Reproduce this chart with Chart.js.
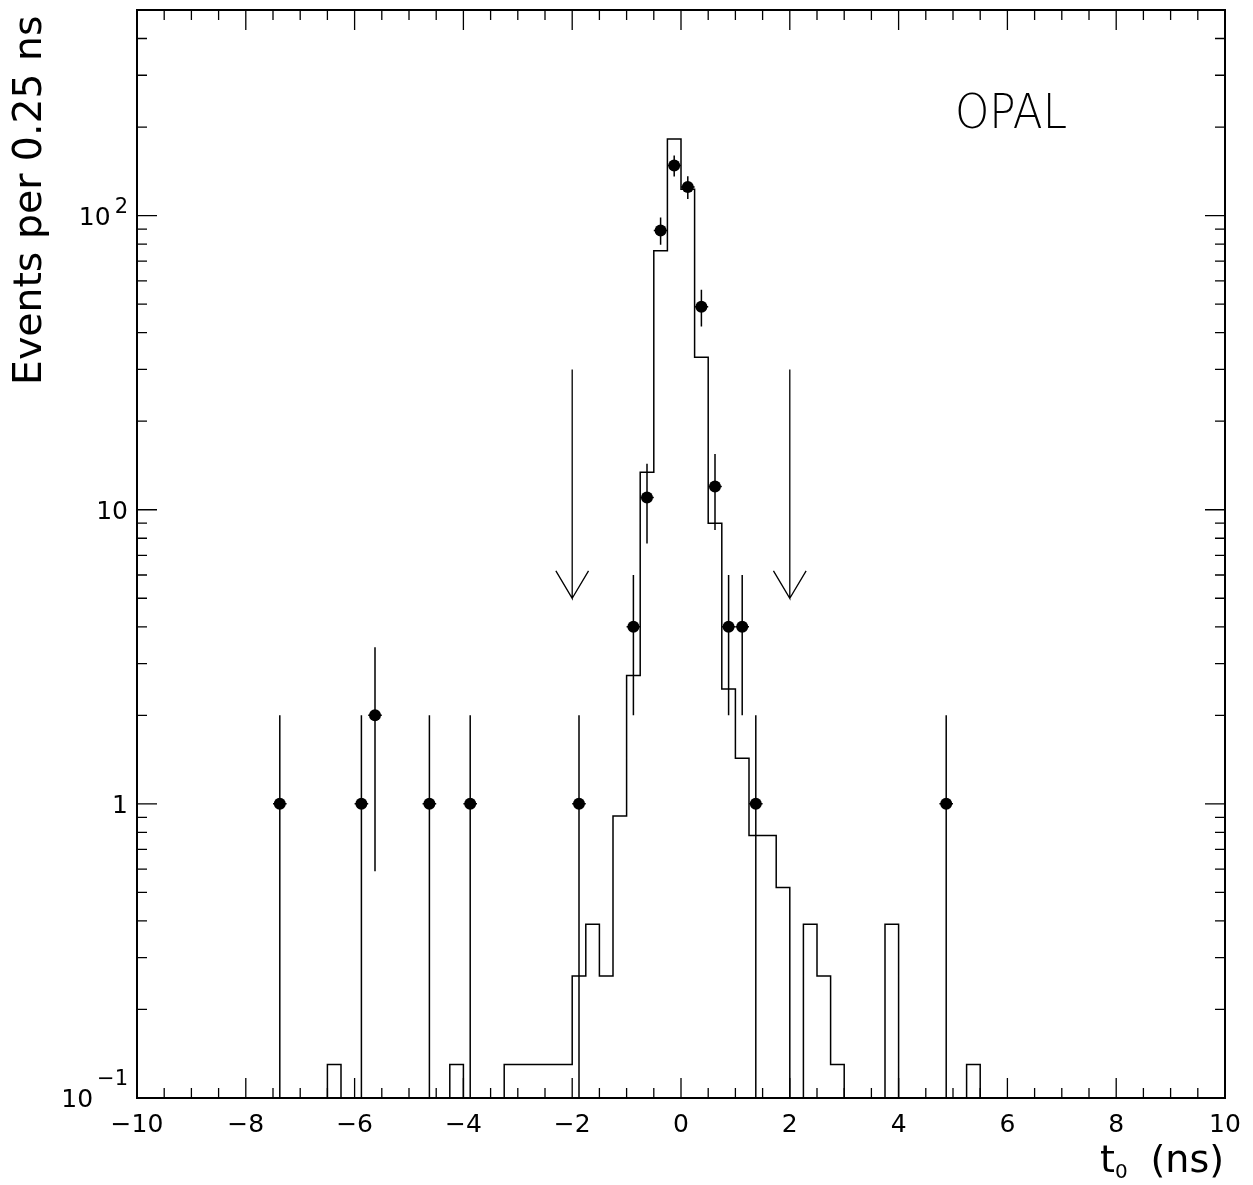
<!DOCTYPE html>
<html lang="en">
<head>
<meta charset="UTF-8">
<title>OPAL t0 distribution</title>
<script src="https://cdn.jsdelivr.net/npm/chart.js"></script>
<style>
  body { margin: 0; background: #fff; }
  canvas { display: block; }
</style>
</head>
<body>
<canvas id="t0Chart" width="1253" height="1185"></canvas>
<script>
// Monte Carlo histogram: low edge of each non-empty 0.25 ns bin and its content
const mcBinLow = [-6.5, -4.25, -3.25, -3.0, -2.75, -2.5, -2.25, -2.0, -1.75, -1.5, -1.25, -1.0, -0.75, -0.5, -0.25,
                  0.0, 0.25, 0.5, 0.75, 1.0, 1.25, 1.5, 1.75, 2.25, 2.5, 2.75, 3.75, 5.25];
const mcValues = [0.13, 0.13, 0.13, 0.13, 0.13, 0.13, 0.13, 0.26, 0.39, 0.26, 0.91, 2.73, 13.4, 76, 182,
                  123, 33, 9.0, 2.46, 1.43, 0.78, 0.78, 0.52, 0.39, 0.26, 0.13, 0.39, 0.13];
const binWidth = 0.25;

// data: bin centres, counts and (poisson) errors
const dataT0 = [-7.375, -5.875, -5.625, -4.625, -3.875, -1.875, -0.875, -0.625, -0.375, -0.125,
                0.125, 0.375, 0.625, 0.875, 1.125, 1.375, 4.875];
const dataCounts = [1, 1, 2, 1, 1, 1, 4, 11, 89, 148, 125, 49, 12, 4, 4, 1, 1];
const dataErrors = [1, 1, 1.41, 1, 1, 1, 2, 3.32, 9.43, 12.2, 11.2, 7, 3.46, 2, 2, 1, 1];

// cut arrows at +-2 ns
const cutPositions = [-2, 2];
const arrowTop = 30, arrowTip = 5, arrowWing = 6.2, arrowHalfWidth = 0.3;

// axis ticks
const xTickValues = [-10, -8, -6, -4, -2, 0, 2, 4, 6, 8, 10];
const xTickLabels = ['\u221210', '\u22128', '\u22126', '\u22124', '\u22122', '0', '2', '4', '6', '8', '10'];
const yTickValues = [100, 10, 1, 0.1];
const yTickBase = ['10', '10', '1', '10'];
const yTickExp = ['2', '', '', '\u22121'];

const yMin = 0.1, yMax = 500;
const FONT = '"DejaVu Sans", "Liberation Sans", Arial, sans-serif';

function histogramOutline() {
  const pts = [];
  let prevHi = null;
  for (let i = 0; i < mcBinLow.length; i++) {
    const lo = mcBinLow[i], hi = lo + binWidth, v = mcValues[i];
    const joined = prevHi !== null && Math.abs(prevHi - lo) < 1e-9;
    if (!joined) {
      if (prevHi !== null) pts.push({x: prevHi, y: yMin});
      pts.push({x: lo, y: yMin});
    }
    pts.push({x: lo, y: v});
    pts.push({x: hi, y: v});
    prevHi = hi;
  }
  pts.push({x: prevHi, y: yMin});
  return pts;
}

function arrow(t) {
  return [
    {x: t, y: arrowTop}, {x: t, y: arrowTip},
    {x: t - arrowHalfWidth, y: arrowWing}, {x: t, y: arrowTip},
    {x: t + arrowHalfWidth, y: arrowWing}
  ];
}

const lineStyle = {showLine: true, borderColor: '#000', pointRadius: 0, tension: 0, fill: false};

const framePlugin = {
  id: 'frame',
  afterDatasetsDraw(chart) {
    const {ctx, chartArea: a, scales: {x, y}} = chart;
    ctx.save();
    ctx.strokeStyle = '#000';
    ctx.fillStyle = '#000';

    // error bars
    ctx.lineWidth = 1.5;
    dataT0.forEach((t, i) => {
      const n = dataCounts[i], e = dataErrors[i];
      const px = x.getPixelForValue(t);
      const py = y.getPixelForValue(n);
      const top = y.getPixelForValue(n + e);
      const bot = n - e > yMin ? y.getPixelForValue(n - e) : a.bottom;
      ctx.beginPath();
      ctx.moveTo(px, top); ctx.lineTo(px, bot);
      ctx.moveTo(x.getPixelForValue(t - binWidth / 2), py);
      ctx.lineTo(x.getPixelForValue(t + binWidth / 2), py);
      ctx.stroke();
    });

    // frame
    ctx.lineWidth = 2;
    ctx.strokeRect(a.left, a.top, a.right - a.left, a.bottom - a.top);

    // x ticks, every 0.5 ns, long every 2 ns (bottom and top, pointing inside)
    ctx.lineWidth = 1.3;
    ctx.beginPath();
    for (let i = 0; i <= 40; i++) {
      const v = -10 + 0.5 * i;
      const len = (i % 4 === 0) ? 20 : 10;
      const px = x.getPixelForValue(v);
      ctx.moveTo(px, a.bottom); ctx.lineTo(px, a.bottom - len);
      ctx.moveTo(px, a.top); ctx.lineTo(px, a.top + len);
    }
    // y ticks, log decades (left and right)
    [0.1, 1, 10, 100].forEach(d => {
      for (let m = 1; m <= 9; m++) {
        const v = m * d;
        if (v <= yMin * 1.0001 || v >= yMax * 0.9999) continue;
        const len = m === 1 ? 20 : 10;
        const py = y.getPixelForValue(v);
        ctx.moveTo(a.left, py); ctx.lineTo(a.left + len, py);
        ctx.moveTo(a.right, py); ctx.lineTo(a.right - len, py);
      }
    });
    ctx.stroke();

    // x tick labels
    ctx.font = '25px ' + FONT;
    ctx.textAlign = 'center';
    ctx.textBaseline = 'alphabetic';
    xTickValues.forEach((v, i) => {
      ctx.fillText(xTickLabels[i], x.getPixelForValue(v), a.bottom + 34);
    });

    // y tick labels with exponents
    yTickValues.forEach((v, i) => {
      const py = y.getPixelForValue(v);
      const right = a.left - 9;
      ctx.textAlign = 'left';
      ctx.font = '21px ' + FONT;
      const ew = yTickExp[i] ? ctx.measureText(yTickExp[i]).width + 4 : 0;
      ctx.font = '25px ' + FONT;
      const bw = ctx.measureText(yTickBase[i]).width;
      ctx.fillText(yTickBase[i], right - ew - bw, py + 9);
      if (yTickExp[i]) {
        ctx.font = '21px ' + FONT;
        ctx.fillText(yTickExp[i], right - ew + 4, py - (v < 1 ? 13 : 3));
      }
    });

    // y title
    ctx.save();
    const yTitle = 'Events per 0.25 ns';
    ctx.font = '40px ' + FONT;
    const yfs = 40 * 370 / ctx.measureText(yTitle).width;
    ctx.font = yfs.toFixed(1) + 'px ' + FONT;
    ctx.translate(12 + yfs * 0.729, 385);
    ctx.rotate(-Math.PI / 2);
    ctx.textAlign = 'left';
    ctx.fillText(yTitle, 0, 0);
    ctx.restore();

    // x title: t0 (ns)
    ctx.textAlign = 'left';
    ctx.font = '38px ' + FONT;
    ctx.fillText('t', 1100, 1172);
    const tw = ctx.measureText('t').width;
    ctx.font = '20px ' + FONT;
    ctx.fillText('0', 1100 + tw, 1178);
    ctx.font = '38px ' + FONT;
    ctx.textAlign = 'right';
    ctx.fillText('(ns)', 1224, 1172);

    // OPAL label
    ctx.save();
    ctx.font = '200 48px "DejaVu Sans ExtraLight", "DejaVu Sans", sans-serif';
    ctx.textAlign = 'left';
    const ow = ctx.measureText('OPAL').width;
    ctx.translate(955, 128);
    ctx.scale(112 / ow, 1);
    ctx.fillText('OPAL', 0, 0);
    ctx.restore();

    ctx.restore();
  }
};

const ctx = document.getElementById('t0Chart').getContext('2d');
const chart = new Chart(ctx, {
  type: 'scatter',
  data: {
    datasets: [
      Object.assign({data: histogramOutline(), borderWidth: 1.5}, lineStyle),
      ...cutPositions.map(t => Object.assign({data: arrow(t), borderWidth: 1.3}, lineStyle)),
      {
        data: dataT0.map((t, i) => ({x: t, y: dataCounts[i]})),
        pointRadius: 6,
        pointHoverRadius: 6,
        backgroundColor: '#000',
        borderWidth: 0
      }
    ]
  },
  options: {
    responsive: false,
    animation: false,
    devicePixelRatio: 1,
    layout: {padding: {left: 137, right: 28, top: 10, bottom: 87}},
    plugins: {legend: {display: false}, tooltip: {enabled: false}},
    scales: {
      x: {type: 'linear', min: -10, max: 10, display: false},
      y: {type: 'logarithmic', min: yMin, max: yMax, display: false}
    }
  },
  plugins: [framePlugin]
});
</script>
</body>
</html>
